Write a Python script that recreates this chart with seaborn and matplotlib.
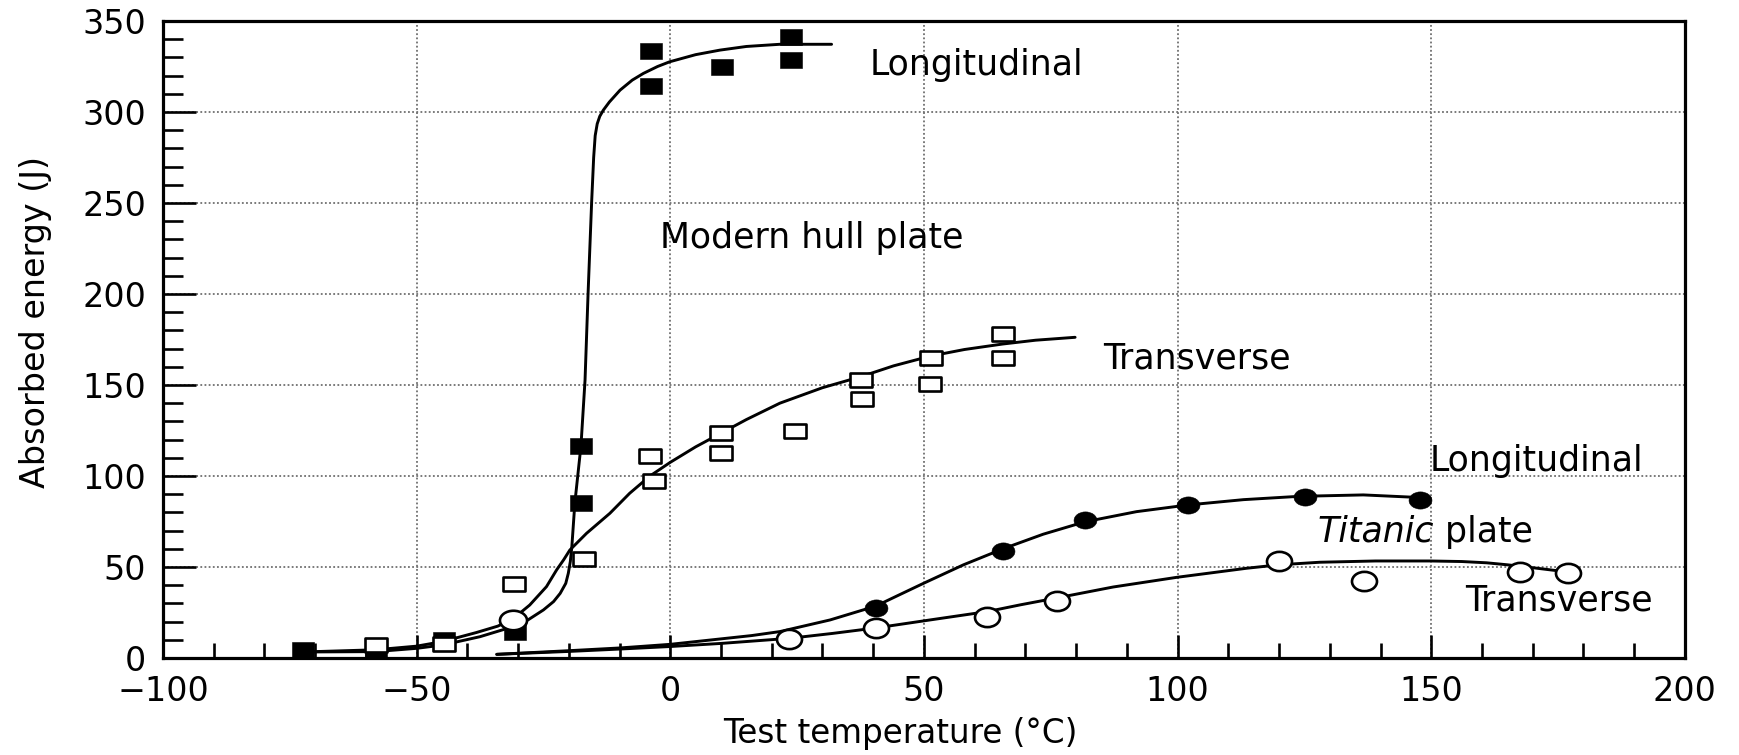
import matplotlib
matplotlib.use("Agg")
import numpy as np
import pandas as pd
import matplotlib.pyplot as plt
from matplotlib.path import Path
from matplotlib.markers import MarkerStyle
from matplotlib.transforms import Affine2D
from matplotlib.ticker import MultipleLocator
import seaborn as sns

# ---------------- data ----------------
# Modern hull plate, longitudinal (filled squares)
modern_long_T = [-72.3, -58.1, -44.6, -30.6, -17.6, -17.6, -3.7, -3.7, 10.1, 23.7, 23.7]
modern_long_E = [4.2, 1.6, 9.9, 14.5, 116.7, 85.4, 333.7, 314.5, 324.9, 341.4, 328.6]
# Modern hull plate, transverse (open squares)
modern_trans_T = [-58.1, -44.6, -30.9, -17.1, -4.0, -3.2, 10.0, 10.0, 24.6, 37.6, 37.8,
                  51.3, 51.2, 65.5, 65.5]
modern_trans_E = [7.1, 7.7, 40.5, 54.6, 111.2, 97.4, 123.8, 112.8, 124.9, 152.7, 142.5,
                  165.0, 150.4, 177.9, 165.0]
# single open circle on the modern curves
modern_circle_T = [-31.0]
modern_circle_E = [20.9]
# Titanic plate, longitudinal (filled circles)
titanic_long_T = [40.5, 65.6, 81.7, 102.1, 125.1, 147.8]
titanic_long_E = [27.6, 59.0, 75.8, 84.1, 88.3, 86.8]
# Titanic plate, transverse (open circles)
titanic_trans_T = [23.5, 40.5, 62.5, 76.2, 119.9, 136.7, 167.5, 177.0]
titanic_trans_E = [10.3, 16.3, 22.7, 31.3, 53.4, 42.3, 47.4, 46.5]

# Fitted curves
ml_curve_T = [-72.3, -58.1, -50.0, -44.9, -37.5, -31.0, -28.0, -25.0, -23.0, -21.7, -20.6,
              -20.1, -19.7, -19.4, -18.8, -17.6, -16.8, -16.2, -15.5, -15.1, -14.8, -14.4,
              -13.9, -13.2, -12.0, -9.9, -7.5, -5.3, -2.5, -0.1, 5.0, 9.8, 15.0, 21.6, 31.8]
ml_curve_E = [3.3, 3.5, 5.3, 7.1, 11.7, 17.2, 21.0, 26.4, 31.0, 35.5, 41.0,
              46.5, 53.0, 61.2, 85.4, 116.7, 152.7, 200.4, 250.4, 275.0, 287.0, 293.5,
              297.6, 301.0, 305.5, 312.0, 317.5, 321.2, 325.0, 327.6, 331.5, 334.0, 336.0, 337.2, 337.2]
mt_curve_T = [-72.3, -58.1, -50.0, -44.9, -38.2, -34.0, -31.0, -27.7, -24.4, -22.4, -21.0,
              -19.8, -16.5, -11.9, -8.0, -4.0, 0.0, 5.0, 10.0, 15.0, 21.6, 30.0, 37.6,
              44.0, 51.3, 58.0, 65.5, 72.0, 79.8]
mt_curve_E = [3.3, 4.5, 6.5, 9.0, 14.0, 17.5, 21.5, 29.1, 39.2, 48.4, 54.0,
              59.3, 68.5, 79.5, 90.5, 100.0, 107.5, 116.0, 123.5, 131.0, 140.0, 148.5, 154.6,
              160.5, 165.9, 169.5, 172.5, 174.6, 176.2]
tl_curve_T = [-34.2, -20.0, -10.0, 0.0, 10.0, 16.0, 21.6, 31.5, 40.5, 45.0, 49.9, 57.8,
              65.6, 73.5, 81.7, 91.9, 102.1, 113.0, 123.8, 136.6, 149.8]
tl_curve_E = [2.0, 4.0, 5.5, 7.5, 10.5, 12.3, 14.5, 20.9, 28.5, 34.5, 41.0, 51.2,
              60.0, 68.0, 74.8, 80.4, 84.1, 87.0, 88.8, 89.6, 87.9]
tt_curve_T = [-34.2, -20.0, -10.0, 0.0, 10.0, 23.5, 32.0, 40.5, 51.2, 62.5, 69.0, 76.2,
              87.3, 99.8, 113.6, 120.0, 128.0, 139.0, 149.8, 156.0, 160.9, 165.0, 170.0,
              175.0, 178.8]
tt_curve_E = [2.0, 3.6, 4.9, 6.3, 8.0, 10.8, 13.5, 16.5, 20.9, 25.5, 29.2, 33.0,
              39.0, 44.3, 49.3, 51.2, 52.6, 53.3, 53.3, 53.0, 52.3, 51.2, 49.6,
              47.9, 46.5]

x_ticks = [-100, -50, 0, 50, 100, 150, 200]
y_ticks = [0, 50, 100, 150, 200, 250, 300, 350]

# ---------------- style ----------------
sns.set_style("white")
plt.rcParams['font.family'] = ['DejaVu Sans']
plt.rcParams['axes.unicode_minus'] = True
for k in ['text.color', 'axes.labelcolor', 'xtick.color', 'ytick.color', 'axes.edgecolor']:
    plt.rcParams[k] = 'black'

fig = plt.figure(figsize=(17.39, 7.55), dpi=100)
ax = fig.add_axes([0.0937, 0.1285, 0.8752, 0.8437])


def rect_marker(h):
    return MarkerStyle(Path([(-1, -h), (1, -h), (1, h), (-1, h), (-1, -h)], closed=True))


def ellipse_marker(h):
    return MarkerStyle(Path.unit_circle().transformed(Affine2D().scale(1.0, h)))


LW = 2.1
for T, E in [(ml_curve_T, ml_curve_E), (mt_curve_T, mt_curve_E),
             (tl_curve_T, tl_curve_E), (tt_curve_T, tt_curve_E)]:
    sns.lineplot(x=T, y=E, ax=ax, color='black', linewidth=LW, sort=False,
                 estimator=None, zorder=3)
for line in ax.lines:
    line.set_solid_joinstyle('round')

sns.scatterplot(x=modern_long_T, y=modern_long_E, ax=ax, marker=rect_marker(0.69),
                s=16.0 ** 2, color='black', edgecolor='black', linewidth=0.4, zorder=4)
sns.scatterplot(x=modern_trans_T, y=modern_trans_E, ax=ax, marker=rect_marker(0.64),
                s=15.5 ** 2, color='white', edgecolor='black', linewidth=1.9, zorder=5)
sns.scatterplot(x=modern_circle_T, y=modern_circle_E, ax=ax, marker=ellipse_marker(0.72),
                s=19.5 ** 2, color='white', edgecolor='black', linewidth=1.9, zorder=5)
sns.scatterplot(x=titanic_long_T, y=titanic_long_E, ax=ax, marker=ellipse_marker(0.75),
                s=16.5 ** 2, color='black', edgecolor='black', linewidth=0.4, zorder=4)
sns.scatterplot(x=titanic_trans_T, y=titanic_trans_E, ax=ax, marker=ellipse_marker(0.77),
                s=18.0 ** 2, color='white', edgecolor='black', linewidth=1.9, zorder=5)

# ---------------- axes ----------------
ax.set_xlim(-100, 200)
ax.set_ylim(0, 350)
ax.set_xticks(x_ticks)
ax.set_yticks(y_ticks)
ax.xaxis.set_minor_locator(MultipleLocator(10))
ax.yaxis.set_minor_locator(MultipleLocator(10))
ax.tick_params(which='both', direction='in', colors='black', width=1.9,
               top=False, right=False, bottom=True, left=True)
ax.tick_params(axis='x', which='major', length=16.5, pad=12, labelsize=24)
ax.tick_params(axis='x', which='minor', length=10.8)
ax.tick_params(axis='y', which='major', length=23.5, pad=12, labelsize=24)
ax.tick_params(axis='y', which='minor', length=14.4)

ax.set_axisbelow(True)
ax.grid(True, which='major', color='#707070', linestyle=(0, (1, 1.3)), linewidth=1.3)
for sp in ax.spines.values():
    sp.set_visible(True)
    sp.set_color('black')
    sp.set_linewidth(2.3)

ax.set_xlabel('Test temperature (°C)', fontsize=23.5)
ax.set_ylabel('Absorbed energy (J)', fontsize=24)
ax.xaxis.set_label_coords(0.4842, -0.092)
ax.yaxis.set_label_coords(-0.0729, 0.5275)

# ---------------- annotations ----------------
TS = 25
ax.text(60.3, 320.5, 'Longitudinal', fontsize=TS, ha='center', va='baseline')
ax.text(27.9, 225.1, 'Modern hull plate', fontsize=TS, ha='center', va='baseline')
ax.text(103.9, 159.2, 'Transverse', fontsize=TS, ha='center', va='baseline')
ax.text(170.8, 102.9, 'Longitudinal', fontsize=TS, ha='center', va='baseline')
ax.text(150.6, 63.9, 'Titanic', fontsize=TS, style='italic', ha='right', va='baseline')
ax.text(150.6, 63.9, ' plate', fontsize=TS, ha='left', va='baseline')
ax.text(175.2, 26.0, 'Transverse', fontsize=TS, ha='center', va='baseline')

fig.savefig('out.png', dpi=100, facecolor='white')
